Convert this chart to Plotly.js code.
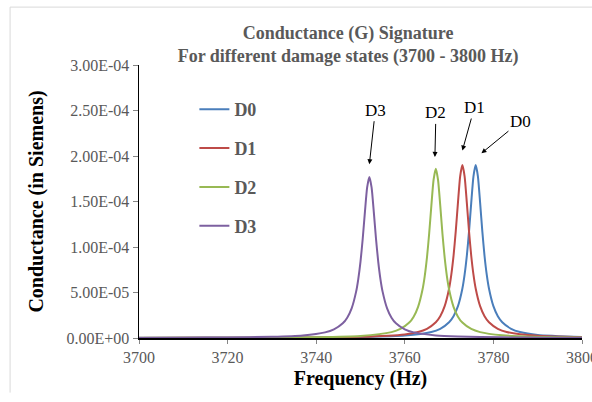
<!DOCTYPE html>
<html>
<head>
<meta charset="utf-8">
<script src="https://cdn.plot.ly/plotly-3.0.1.min.js"></script>
<style>html,body{margin:0;padding:0;background:#fff;}#chart{width:592px;height:402px;}</style>
</head>
<body>
<div id="chart"></div>
<script>
// Frequency (Hz) and conductance (S)
const freqD0 = [3700, 3710, 3720, 3730, 3740, 3750, 3760, 3766, 3768, 3770, 3771, 3772, 3773, 3773.5, 3774, 3774.5, 3775, 3775.5, 3776, 3776.5, 3777, 3777.5, 3778, 3778.5, 3779, 3780, 3781, 3782, 3784, 3786, 3790, 3800];
const gD0 = [1.19e-7, 1.57e-7, 2.18e-7, 3.24e-7, 5.28e-7, 1.01e-6, 2.64e-6, 6.62e-6, 1.015e-5, 1.732e-5, 2.398e-5, 3.498e-5, 5.44e-5, 6.956e-5, 9.014e-5, 1.171e-4, 1.488e-4, 1.777e-4, 1.90e-4, 1.777e-4, 1.488e-4, 1.171e-4, 9.014e-5, 6.956e-5, 5.44e-5, 3.498e-5, 2.398e-5, 1.732e-5, 1.015e-5, 6.62e-6, 3.44e-6, 1.18e-6];

const freqD1 = [3700, 3710, 3720, 3730, 3740, 3750, 3760, 3763, 3765, 3767, 3768, 3769, 3770, 3770.5, 3771, 3771.5, 3772, 3772.5, 3773, 3773.5, 3774, 3774.5, 3775, 3775.5, 3776, 3777, 3778, 3779, 3781, 3783, 3790, 3800];
const gD1 = [1.29e-7, 1.73e-7, 2.44e-7, 3.70e-7, 6.28e-7, 1.29e-6, 3.97e-6, 6.62e-6, 1.015e-5, 1.732e-5, 2.398e-5, 3.498e-5, 5.44e-5, 6.956e-5, 9.014e-5, 1.171e-4, 1.488e-4, 1.777e-4, 1.90e-4, 1.777e-4, 1.488e-4, 1.171e-4, 9.014e-5, 6.956e-5, 5.44e-5, 3.498e-5, 2.398e-5, 1.732e-5, 1.015e-5, 6.62e-6, 2.34e-6, 9.36e-7];

const freqD2 = [3700, 3710, 3720, 3730, 3740, 3750, 3757, 3759, 3761, 3762, 3763, 3764, 3764.5, 3765, 3765.5, 3766, 3766.5, 3767, 3767.5, 3768, 3768.5, 3769, 3769.5, 3770, 3771, 3772, 3773, 3775, 3777, 3782, 3787, 3800];
const gD2 = [1.50e-7, 2.06e-7, 3.04e-7, 4.89e-7, 9.17e-7, 2.30e-6, 6.48e-6, 9.93e-6, 1.695e-5, 2.347e-5, 3.424e-5, 5.325e-5, 6.809e-5, 8.824e-5, 1.146e-4, 1.457e-4, 1.739e-4, 1.86e-4, 1.739e-4, 1.457e-4, 1.146e-4, 8.824e-5, 6.809e-5, 5.325e-5, 3.424e-5, 2.347e-5, 1.695e-5, 9.93e-6, 6.48e-6, 2.94e-6, 1.66e-6, 6.15e-7];

const freqD3 = [3700, 3710, 3720, 3730, 3737, 3742, 3744, 3746, 3747, 3748, 3749, 3749.5, 3750, 3750.5, 3751, 3751.5, 3752, 3752.5, 3753, 3753.5, 3754, 3754.5, 3755, 3756, 3757, 3758, 3760, 3762, 3767, 3772, 3782, 3792, 3800];
const gD3 = [2.36e-7, 3.61e-7, 6.22e-7, 1.31e-6, 2.79e-6, 6.17e-6, 9.45e-6, 1.613e-5, 2.234e-5, 3.259e-5, 5.068e-5, 6.48e-5, 8.397e-5, 1.0905e-4, 1.386e-4, 1.655e-4, 1.77e-4, 1.655e-4, 1.386e-4, 1.0905e-4, 8.397e-5, 6.48e-5, 5.068e-5, 3.259e-5, 2.234e-5, 1.613e-5, 9.45e-6, 6.17e-6, 2.79e-6, 1.58e-6, 7.07e-7, 3.98e-7, 2.77e-7];

const seriesNames = ['D0', 'D1', 'D2', 'D3'];
const seriesColors = ['#4A7EBB', '#BE4B48', '#98B954', '#7D60A0'];

// Peak labels: name, arrow tip (freq, conductance)
const peakLabels = ['D3', 'D2', 'D1', 'D0'];
const peakTipFreq = [3752.0, 3766.8, 3773.0, 3777.3];
const peakTipG = [1.91e-4, 1.99e-4, 2.06e-4, 2.03e-4];
const peakTextOffX = [6, 1, 12, 39];
const peakTextOffY = [-54, -44, -43, -32];

const xs = [freqD0, freqD1, freqD2, freqD3];
const ys = [gD0, gD1, gD2, gD3];

const serif = 'Liberation Serif, Times New Roman, serif';

const traces = seriesNames.map((n, i) => ({
  type: 'scatter', mode: 'lines', name: n,
  x: xs[i], y: ys[i],
  line: {color: seriesColors[i], width: 2, shape: 'spline', smoothing: 0.6},
  legendgroup: n
}));

const annotations = peakLabels.map((t, i) => ({
  x: peakTipFreq[i], y: peakTipG[i], xref: 'x', yref: 'y',
  text: t, showarrow: true, arrowhead: 2, arrowsize: 1, arrowwidth: 1,
  arrowcolor: '#000', ax: peakTextOffX[i], ay: peakTextOffY[i],
  font: {family: serif, size: 17, color: '#000'}
}));

const layout = {
  width: 592, height: 402,
  margin: {l: 139, r: 10, t: 65, b: 64, pad: 0},
  paper_bgcolor: '#fff', plot_bgcolor: '#fff',
  title: {
    text: '<b>Conductance (G) Signature<br>For different damage states (3700 - 3800 Hz)</b>',
    font: {family: serif, size: 18, color: '#595959'},
    x: 0.588, xanchor: 'center', y: 0.903, yanchor: 'top'
  },
  xaxis: {
    range: [3700, 3800], tickvals: [3700, 3720, 3740, 3760, 3780, 3800],
    ticktext: ['3700', '3720', '3740', '3760', '3780', '3800'],
    ticklabeloverflow: 'allow',
    showgrid: false, zeroline: false, showline: true, linecolor: '#000', linewidth: 1.5,
    ticks: 'outside', ticklen: 4, tickcolor: '#868686', tickwidth: 1,
    tickfont: {family: serif, size: 16, color: '#595959'},
    title: {text: '<b>Frequency (Hz)</b>', font: {family: serif, size: 20, color: '#000'}, standoff: 6},
    layer: 'below traces', fixedrange: true
  },
  yaxis: {
    range: [0, 3.0e-4], tickvals: [0, 5e-5, 1e-4, 1.5e-4, 2e-4, 2.5e-4, 3e-4],
    ticktext: ['0.00E+00', '5.00E-05', '1.00E-04', '1.50E-04', '2.00E-04', '2.50E-04', '3.00E-04'],
    showgrid: false, zeroline: false, showline: true, linecolor: '#000', linewidth: 1.5,
    ticks: 'outside', ticklen: 5, tickcolor: '#868686', tickwidth: 1,
    tickfont: {family: serif, size: 16, color: '#595959'},
    title: {text: '<b>Conductance (in Siemens)</b>', font: {family: serif, size: 20, color: '#000'}, standoff: 17},
    layer: 'below traces', fixedrange: true
  },
  legend: {
    x: 0.125, xanchor: 'left', y: 0.905, yanchor: 'top',
    bgcolor: 'rgba(0,0,0,0)', borderwidth: 0,
    font: {family: serif, size: 18, color: '#595959', weight: 'bold'},
    traceorder: 'grouped', tracegroupgap: 12.5
  },
  annotations: annotations,
  shapes: [{
    type: 'path', xref: 'paper', yref: 'paper',
    path: 'M -0.291 -0.2 L -0.291 1.212 L 1.1 1.212',
    line: {color: '#D9D9D9', width: 1}
  }],
  showlegend: true
};

Plotly.newPlot('chart', traces, layout, {displayModeBar: false, staticPlot: true});
</script>
</body>
</html>
